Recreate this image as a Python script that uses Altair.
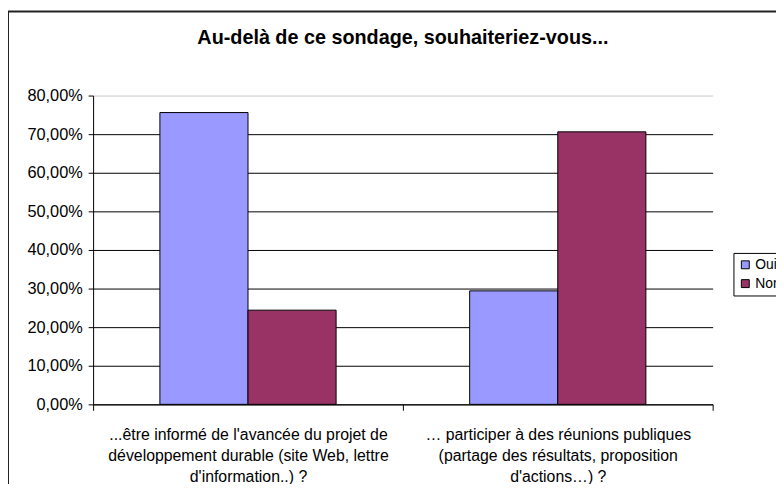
import altair as alt
import pandas as pd

# ---- data ----
question_lines = [
    ["...être informé de l'avancée du projet de", "développement durable (site Web, lettre", "d'information..) ?"],
    ["… participer à des réunions publiques", "(partage des résultats, proposition", "d'actions…) ?"],
]
series = ["Oui", "Non"]
oui_values = [0.756, 0.294]
non_values = [0.244, 0.706]
y_ticks = [0.0, 0.1, 0.2, 0.3, 0.4, 0.5, 0.6, 0.7, 0.8]
colors = ["#9999FF", "#993366"]
title_text = "Au-delà de ce sondage, souhaiteriez-vous..."

questions = ["\n".join(lines) for lines in question_lines]
rows = []
for q, o, n in zip(questions, oui_values, non_values):
    rows.append({"q": q, "s": "Oui", "v": o})
    rows.append({"q": q, "s": "Non", "v": n})
df = pd.DataFrame(rows)

W, H = 626, 312
FONT = "Liberation Sans"
PAD_L, PAD_T = 86, 86
PAD_R = 776 - PAD_L - W
PAD_B = 476 - PAD_T - H

bars = alt.Chart(df).mark_bar(stroke="black", strokeWidth=1).encode(
    x=alt.X(
        "q:N",
        sort=questions,
        scale=alt.Scale(paddingInner=0, paddingOuter=0),
        axis=alt.Axis(
            title=None,
            labelAngle=0,
            tickBand="extent",
            labelExpr="split(datum.label, '\\n')",
            labelFont=FONT,
            labelFontSize=16,
            labelColor="black",
            labelLineHeight=21,
            labelPadding=17,
            labelBaseline="top",
            labelLimit=600,
            tickSize=6,
            tickColor="black",
            domainColor="black",
            grid=False,
        ),
    ),
    xOffset=alt.XOffset("s:N", sort=series, scale=alt.Scale(paddingOuter=0.758, paddingInner=0)),
    y=alt.Y(
        "v:Q",
        scale=alt.Scale(domain=[0, 0.8], nice=False),
        axis=alt.Axis(
            title=None,
            values=y_ticks,
            labelExpr="replace(format(datum.value, '.2%'), '.', ',')",
            labelFont=FONT,
            labelFontSize=16.5,
            labelColor="black",
            labelPadding=6,
            tickSize=5,
            tickColor="black",
            domainColor="black",
            grid=True,
            gridColor={"condition": {"test": "datum.value >= 0.79", "value": "#c8c8c8"}, "value": "black"},
            gridOpacity=1,
        ),
    ),
    color=alt.Color(
        "s:N",
        sort=series,
        scale=alt.Scale(domain=series, range=colors),
        legend=alt.Legend(
            title=None,
            orient="none",
            legendX=647,
            legendY=159,
            strokeColor="black",
            fillColor="white",
            padding=5,
            symbolType="square",
            symbolSize=64,
            symbolStrokeColor="black",
            symbolStrokeWidth=1,
            labelFont=FONT,
            labelFontSize=14,
            labelColor="black",
            labelOffset=3,
            rowPadding=5,
        ),
    ),
)

frame = alt.Chart(pd.DataFrame({"a": [0]})).mark_rect(
    fillOpacity=0, stroke="#222222", strokeWidth=2
).encode(
    x=alt.value(-PAD_L + 0),
    x2=alt.value(W + 300),
    y=alt.value(-PAD_T + 1),
    y2=alt.value(H + 300),
)

chart = alt.layer(frame, bars).properties(
    width=W,
    height=H,
    padding={"left": PAD_L, "top": PAD_T, "right": PAD_R, "bottom": PAD_B},
    autosize=alt.AutoSizeParams(type="none"),
    title=alt.Title(title_text, font=FONT, fontSize=20, fontWeight="bold", color="black", anchor="middle", offset=-38),
).configure_view(stroke=None)

chart.save("out.html", embed_options={"renderer": "svg", "actions": False})
